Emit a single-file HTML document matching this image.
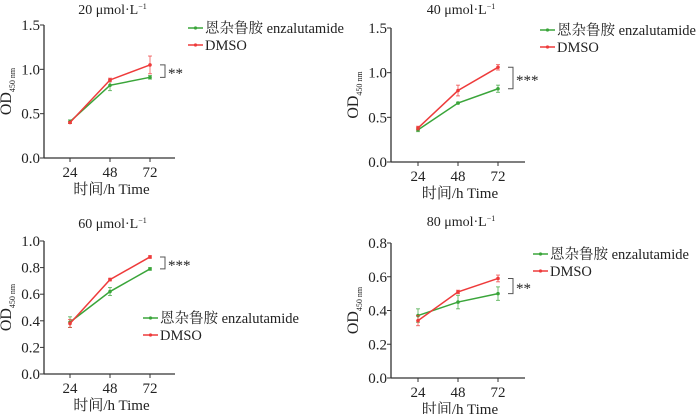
<!DOCTYPE html>
<html><head><meta charset="utf-8"><style>
body{margin:0;background:#fff;}
svg text{font-family:"Liberation Serif","Noto Serif CJK SC",serif;fill:#222;}
</style></head><body>
<svg id="c" width="700" height="414" xmlns="http://www.w3.org/2000/svg"></svg>
<script>
const times=[24,48,72];
const titles=["20 μmol·L","40 μmol·L","60 μmol·L","80 μmol·L"];
const yMaxs=[1.5,1.5,1.0,0.8];
const yTicks=[[0,0.5,1.0,1.5],[0,0.5,1.0,1.5],[0,0.2,0.4,0.6,0.8,1.0],[0,0.2,0.4,0.6,0.8]];
const greenVals=[[0.41,0.82,0.91],[0.36,0.66,0.82],[0.39,0.62,0.79],[0.37,0.45,0.50]];
const greenErr=[[0.02,0.06,0.02],[0.02,0.01,0.04],[0.04,0.03,0.01],[0.04,0.04,0.04]];
const redVals=[[0.40,0.88,1.05],[0.38,0.80,1.06],[0.38,0.71,0.88],[0.34,0.51,0.59]];
const redErr=[[0.01,0.02,0.10],[0.02,0.06,0.03],[0.03,0.01,0.01],[0.03,0.01,0.02]];
const stars=["**","***","***","**"];
const panels=[
 {ax:44,y0:158,yT:25,xT:[70,110,150],xe:175,ty:10,lx:188,ly:28},
 {ax:391,y0:162,yT:28,xT:[418,458,498],xe:525,ty:10,lx:540,ly:30},
 {ax:44,y0:374,yT:241,xT:[70,110,150],xe:175,ty:224,lx:143,ly:318},
 {ax:391,y0:378,yT:243,xT:[418,458,498],xe:525,ty:222,lx:533,ly:254}];
const svg=document.getElementById('c');const NS="http://www.w3.org/2000/svg";
function mk(t,a,p){const e=document.createElementNS(NS,t);for(const k in a)e.setAttribute(k,a[k]);(p||svg).appendChild(e);return e;}
panels.forEach((P,i)=>{
 const g=mk('g',{});
 
 
 const ys=v=>P.y0-(v/yMaxs[i])*(P.y0-P.yT);
 const xs=t=>P.xT[0]+(t-times[0])/(times[2]-times[0])*(P.xT[2]-P.xT[0]);
 mk('line',{x1:P.ax,y1:P.yT,x2:P.ax,y2:P.y0,stroke:'#333','stroke-width':1.3},g);
 mk('line',{x1:P.ax,y1:P.y0,x2:P.xe,y2:P.y0,stroke:'#333','stroke-width':1.3},g);
 yTicks[i].forEach(v=>{const y=ys(v);mk('line',{x1:P.ax-4,y1:y,x2:P.ax,y2:y,stroke:'#333'},g);
  const t=mk('text',{x:P.ax-4,y:y+5,'text-anchor':'end','font-size':15},g);t.textContent=v.toFixed(1);});
 times.forEach(tm=>{const x=xs(tm);mk('line',{x1:x,y1:P.y0,x2:x,y2:P.y0+4,stroke:'#333'},g);
  const t=mk('text',{x:x,y:P.y0+19,'text-anchor':'middle','font-size':15},g);t.textContent=tm;});
 const xt=mk('text',{x:(P.ax+P.xe)/2+2,y:P.y0+36,'text-anchor':'middle','font-size':15},g);
 xt.textContent='时间/h Time';
 const yc=(P.yT+P.y0)/2;
 const yl=mk('text',{x:0,y:0,transform:`translate(${P.ax-33},${yc}) rotate(-90)`,'text-anchor':'middle','font-size':16},g);
 
 yl.innerHTML='OD<tspan font-size="8" dy="4">450 nm</tspan>';
 const tt=mk('text',{x:(P.ax+P.xe)/2+3,y:P.ty+4,'text-anchor':'middle','font-size':14},g);
 
 tt.innerHTML=titles[i]+'<tspan font-size="8" dy="-5">−1</tspan>';
 [[greenVals[i],greenErr[i],'#3aa53a'],[redVals[i],redErr[i],'#ee3b3b']].forEach((s,si)=>{
  const pts=s[0].map((v,j)=>xs(times[j])+','+ys(v)).join(' ');
  const pl=mk('polyline',{points:pts,fill:'none',stroke:s[2],'stroke-width':1.5},g);
  
  s[0].forEach((v,j)=>{const x=xs(times[j]);
   mk('line',{x1:x,y1:ys(v+s[1][j]),x2:x,y2:ys(v-s[1][j]),stroke:s[2],'stroke-width':1,opacity:.7},g);
   mk('line',{x1:x-2,y1:ys(v+s[1][j]),x2:x+2,y2:ys(v+s[1][j]),stroke:s[2],opacity:.7},g);
   mk('line',{x1:x-2,y1:ys(v-s[1][j]),x2:x+2,y2:ys(v-s[1][j]),stroke:s[2],opacity:.7},g);
   mk('circle',{cx:x,cy:ys(v),r:1.8,fill:s[2]},g);});
 });
 const bx=xs(72)+10,yA=ys(redVals[i][2]),yB=ys(greenVals[i][2]);
 mk('polyline',{points:`${bx},${yA} ${bx+5},${yA} ${bx+5},${yB} ${bx},${yB}`,fill:'none',stroke:'#555'},g);
 const st=mk('text',{x:bx+8,y:(yA+yB)/2+7,'font-size':15},g);st.textContent=stars[i];
 [['恩杂鲁胺 enzalutamide','#3aa53a'],['DMSO','#ee3b3b']].forEach((L,k)=>{
  const lg=mk('g',{},g);
  
  
  const y=P.ly+k*17;
  mk('line',{x1:P.lx,y1:y,x2:P.lx+15,y2:y,stroke:L[1],'stroke-width':1.5},lg);
  mk('circle',{cx:P.lx+7.5,cy:y,r:1.6,fill:L[1]},lg);
  const t=mk('text',{x:P.lx+17,y:y+5,'font-size':14.5},lg);t.textContent=L[0];});
});
</script>
</body></html>
